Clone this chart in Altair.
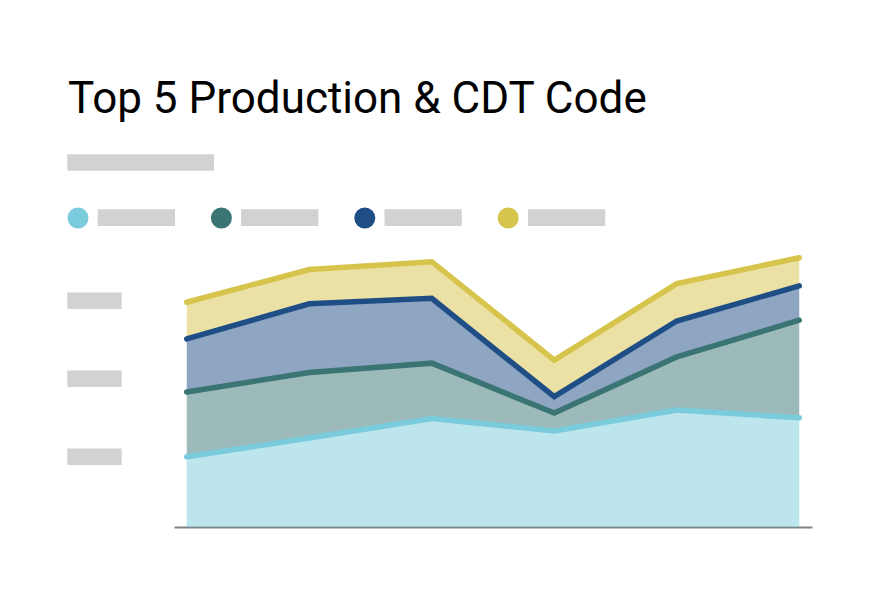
import altair as alt
import pandas as pd

# ---------------- data ----------------
title_text = "Top 5 Production & CDT Code"
periods = [0, 1, 2, 3, 4, 5]
series_names = ["Code 1", "Code 2", "Code 3", "Code 4"]
series_colors = ["#7ACCDC", "#3A7573", "#1F4E86", "#D7C44C"]
series_1 = [90, 114, 139, 123, 150, 140]
series_2 = [83, 84, 71, 23, 68, 125]
series_3 = [68, 88, 83, 21, 46, 44]
series_4 = [47, 44, 47, 47, 48, 36]
y_tick_values = [90, 190, 290]

# ---------------- tables ----------------
rows = []
cum = [0] * len(periods)
for k, (name, vals) in enumerate(zip(series_names, [series_1, series_2, series_3, series_4])):
    for i, (p, v) in enumerate(zip(periods, vals)):
        rows.append({"period": p, "series": name, "order": k,
                     "lo": cum[i], "hi": cum[i] + v})
        cum[i] += v
stack_df = pd.DataFrame(rows)
legend_df = pd.DataFrame({"series": series_names, "i": list(range(len(series_names)))})
ticks_df = pd.DataFrame({"tick": y_tick_values})
one_df = pd.DataFrame({"a": [0]})

PLACEHOLDER = "#D1D2D4"
color_scale = alt.Scale(domain=series_names, range=series_colors)
x_scale = alt.Scale(domain=[-0.104, 5.104], nice=False, zero=False)
y_scale = alt.Scale(domain=[0, 355], nice=False)

base = alt.Chart(stack_df)

areas = base.mark_area(fillOpacity=0.5, interpolate="linear").encode(
    x=alt.X("period:Q", scale=x_scale,
            axis=alt.Axis(domain=True, domainColor="#808285", domainWidth=2,
                          ticks=False, labels=False, grid=False, title=None)),
    y=alt.Y("hi:Q", scale=y_scale, axis=None),
    y2="lo:Q",
    color=alt.Color("series:N", scale=color_scale, legend=None),
    detail="series:N",
)

lines = base.mark_line(strokeWidth=5.5, strokeCap="round", strokeJoin="miter").encode(
    x=alt.X("period:Q", scale=x_scale),
    y=alt.Y("hi:Q", scale=y_scale),
    color=alt.Color("series:N", scale=color_scale, legend=None),
    order=alt.Order("period:Q"),
)

y_placeholders = alt.Chart(ticks_df).transform_calculate(
    lo="datum.tick - 10.6", hi="datum.tick + 10.6"
).mark_rect(color=PLACEHOLDER).encode(
    y=alt.Y("lo:Q", scale=y_scale),
    y2="hi:Q",
    x=alt.value(-106.7),
    x2=alt.value(-52.3),
)

legend_dots = alt.Chart(legend_df).transform_calculate(
    cx="-96 + datum.i * 143.4"
).mark_circle(size=441, opacity=1).encode(
    x=alt.X("cx:Q", scale=None),
    y=alt.value(-32),
    color=alt.Color("series:N", scale=color_scale, legend=None),
)

legend_bars = alt.Chart(legend_df).transform_calculate(
    bx="-96 + datum.i * 143.4 + 19.7", bx2="-96 + datum.i * 143.4 + 97"
).mark_rect(color=PLACEHOLDER).encode(
    x=alt.X("bx:Q", scale=None),
    x2="bx2:Q",
    y=alt.value(-40.7),
    y2=alt.value(-24),
)

subtitle_bar = alt.Chart(one_df).mark_rect(color=PLACEHOLDER).encode(
    x=alt.value(-106.7), x2=alt.value(40),
    y=alt.value(-95.7), y2=alt.value(-79.3),
)

title = alt.Chart(one_df).mark_text(
    text=title_text, align="left", baseline="alphabetic",
    font="Roboto", fontSize=44, color="#000000",
).encode(x=alt.value(-106), y=alt.value(-137.3))

chart = alt.layer(
    areas, lines, y_placeholders, legend_dots, legend_bars, subtitle_bar, title
).properties(
    width=638, height=277,
    autosize=alt.AutoSizeParams(type="none"),
    padding={"left": 166, "top": 242, "right": 58, "bottom": 68},
    background="white",
).configure_view(stroke=None)

chart.save("out.html", embed_options={"renderer": "svg", "actions": False})
